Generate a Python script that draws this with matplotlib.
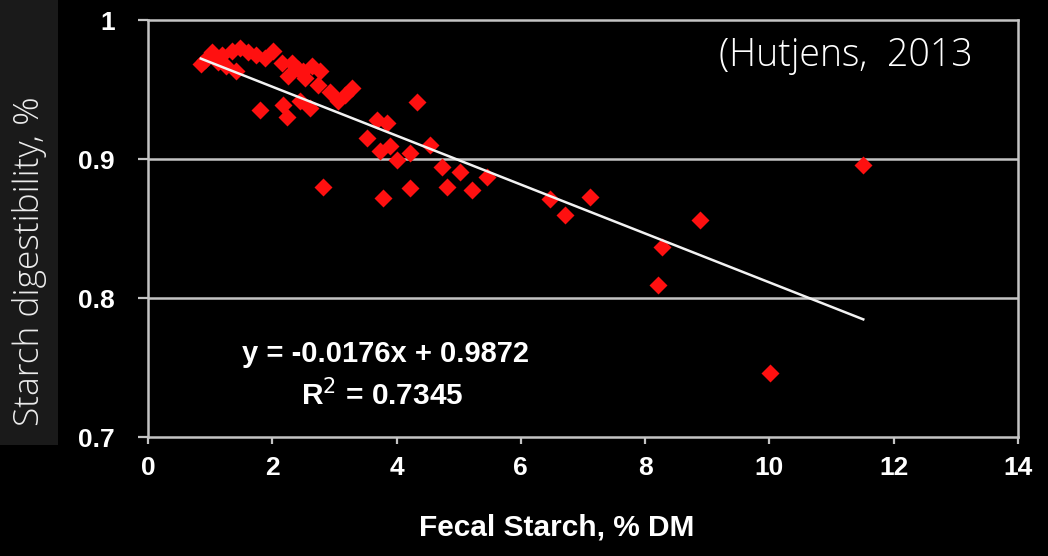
import numpy as np
import matplotlib.pyplot as plt
from matplotlib.patches import Rectangle

# fecal starch (% DM) vs starch digestibility
fecal = [0.85, 0.92, 1.03, 1.13, 1.19, 1.26, 1.35, 1.42, 1.48, 1.61, 1.74, 1.80,
         1.88, 2.01, 2.16, 2.17, 2.24, 2.25, 2.32, 2.41, 2.45, 2.49, 2.53, 2.61,
         2.64, 2.74, 2.77, 2.82, 2.93, 3.06, 3.17, 3.28, 3.52, 3.69, 3.73, 3.78,
         3.85, 3.89, 4.01, 4.22, 4.22, 4.33, 4.54, 4.73, 4.81, 5.02, 5.21, 5.46,
         6.47, 6.71, 7.11, 8.21, 8.27, 8.88, 10.01, 11.51]
digest = [0.968, 0.971, 0.977, 0.970, 0.975, 0.967, 0.978, 0.963, 0.980, 0.977, 0.975, 0.935,
          0.973, 0.978, 0.969, 0.939, 0.930, 0.960, 0.969, 0.965, 0.942, 0.963, 0.958, 0.937,
          0.967, 0.953, 0.963, 0.880, 0.948, 0.942, 0.946, 0.951, 0.915, 0.928, 0.906, 0.872,
          0.926, 0.909, 0.899, 0.904, 0.879, 0.941, 0.910, 0.894, 0.880, 0.891, 0.878, 0.887,
          0.871, 0.860, 0.873, 0.809, 0.837, 0.856, 0.746, 0.896]

slope = -0.0176
intercept = 0.9872
r2 = 0.7345

xticks = [0, 2, 4, 6, 8, 10, 12, 14]
yticks = [0.7, 0.8, 0.9, 1.0]
ytick_labels = ["0.7", "0.8", "0.9", "1"]

grey = "#c4c4c4"
bold = dict(family="Liberation Sans", weight="bold", color="white")
thin = dict(family=["Open Sans", "Roboto", "DejaVu Sans"], weight="light")

fig = plt.figure(figsize=(10.48, 5.56), dpi=100, facecolor="black")
ax = fig.add_axes([148/1048, 1-437/556, 870/1048, 417/556])
ax.set_facecolor("black")

ax.set_xlim(0, 14)
ax.set_ylim(0.7, 1.0)
for y in [0.8, 0.9]:
    ax.axhline(y, color=grey, lw=1.8, zorder=1)

ax.plot(fecal, digest, "D", color="#ff1010", ms=9, mec="none", zorder=3)

xs = np.array([min(fecal), max(fecal)])
ax.plot(xs, slope*xs + intercept, color="#f2f2f2", lw=1.8, zorder=4)

for s in ax.spines.values():
    s.set_color(grey)
    s.set_linewidth(1.8)

ax.set_xticks(xticks)
ax.set_yticks(yticks)
ax.set_yticklabels(ytick_labels)
ax.tick_params(axis="both", colors=grey, width=1.6)
ax.tick_params(axis="y", length=7, pad=17)
ax.tick_params(axis="x", length=5, pad=9)
for lab in ax.get_xticklabels() + ax.get_yticklabels():
    lab.set_fontfamily("Liberation Sans")
    lab.set_fontweight("bold")
    lab.set_fontsize(19)
    lab.set_color("white")

fig.text(557/1048, 1-527/556, "Fecal Starch, % DM", ha="center", va="center", fontsize=21.5, **bold)

ax.text(385/1048, 1-354/556, "y = -0.0176x + 0.9872", transform=fig.transFigure,
        ha="center", va="center", fontsize=21, **bold)
ax.text(382/1048, 1-395/556, "R$^2$ = 0.7345", transform=fig.transFigure,
        ha="center", va="center", fontsize=21.5, **bold)

fig.text(973/1048, 1-56/556, "(Hutjens,  2013", ha="right", va="center",
         fontsize=27, color="white", **thin)

# label panel on the left
fig.add_artist(Rectangle((0, 1-445/556), 58/1048, 445/556, transform=fig.transFigure,
                         facecolor="#1a1a1a", edgecolor="none"))
fig.text(30/1048, 1-261/556, "Starch digestibility, %", rotation=90, ha="center", va="center",
         fontsize=25.5, color="#ececec", **thin)

fig.savefig("out.png", dpi=100, facecolor="black")
